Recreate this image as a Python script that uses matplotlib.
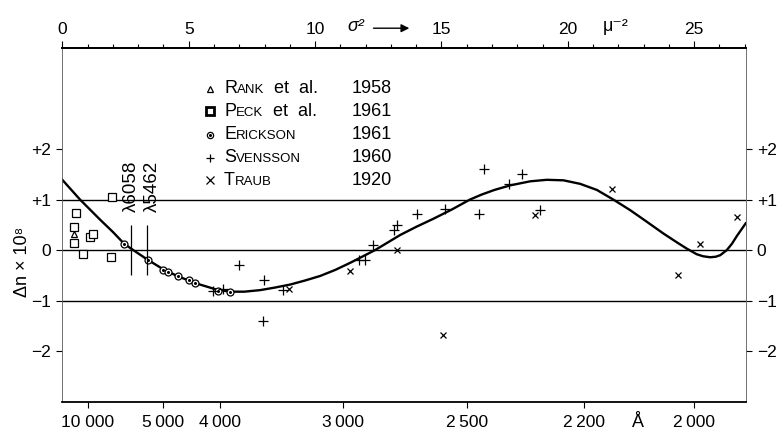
import numpy as np
import matplotlib.pyplot as plt
from matplotlib.offsetbox import TextArea, HPacker, AnnotationBbox

plt.rcParams['font.family'] = ['Liberation Sans', 'DejaVu Sans']

# -----------------------------------
# Data (x = sigma^2 in micron^-2, y = delta n * 1e8)
# -----------------------------------
curve_x = [0.0, 0.70, 1.5, 2.0, 2.44, 2.81, 3.38, 4.0, 4.59, 5.32, 6.11, 6.64, 7.2,
           7.82, 8.4, 9.01, 9.6, 10.2, 10.8, 11.39, 11.9, 12.37, 13.37, 14.0, 14.68,
           15.4, 16.13, 16.6, 17.1, 17.72, 18.51, 19.17, 19.83, 20.49, 21.15, 21.8,
           22.47, 23.13, 23.78, 24.3, 24.71, 25.1, 25.35, 25.63, 25.85, 26.03, 26.29,
           26.5, 26.69, 27.04]
curve_y = [1.39, 1.00, 0.60, 0.36, 0.13, 0.0, -0.19, -0.38, -0.52, -0.66, -0.78, -0.82,
           -0.82, -0.79, -0.74, -0.68, -0.60, -0.51, -0.39, -0.25, -0.12, 0.0, 0.30,
           0.46, 0.62, 0.80, 1.0, 1.10, 1.19, 1.28, 1.36, 1.39, 1.38, 1.31, 1.19, 1.0,
           0.79, 0.56, 0.33, 0.16, 0.03, -0.08, -0.12, -0.14, -0.13, -0.10, 0.0,
           0.13, 0.28, 0.53]

rank_x = [0.46]
rank_y = [0.31]

peck_x = [1.98, 0.54, 0.46, 0.46, 1.10, 1.20, 0.83, 1.91]
peck_y = [1.06, 0.73, 0.45, 0.14, 0.26, 0.31, -0.08, -0.13]

erickson_x = [2.44, 3.38, 4.0, 4.2, 4.57, 5.01, 5.25, 6.17, 6.64]
erickson_y = [0.13, -0.19, -0.39, -0.43, -0.51, -0.59, -0.64, -0.80, -0.83]

svensson_x = [5.95, 6.37, 6.99, 7.98, 7.93, 8.75, 11.75, 11.98, 12.28, 13.14, 13.23,
              14.02, 15.14, 16.5, 16.7, 17.69, 18.18, 18.9]
svensson_y = [-0.80, -0.77, -0.30, -0.59, -1.39, -0.79, -0.20, -0.20, 0.10, 0.39, 0.49,
              0.71, 0.82, 0.71, 1.61, 1.31, 1.51, 0.80]

traub_x = [8.95, 11.39, 13.23, 15.05, 18.71, 21.74, 24.38, 25.23, 26.69]
traub_y = [-0.77, -0.41, 0.0, -1.67, 0.70, 1.21, -0.49, 0.13, 0.66]

# bottom axis: wavelength in Angstrom
wavelengths = [10000, 5000, 4000, 3000, 2500, 2200, 2000]
wavelength_labels = ["10 000", "5\u2009000", "4\u2009000", "3\u2009000",
                     "2\u2009500", "2\u2009200", "2\u2009000"]

top_major = [0, 5, 10, 15, 20, 25]
y_ticks = [-2, -1, 0, 1, 2]
y_labels = ["\u22122", "\u22121", "0", "+1", "+2"]

lambda_lines = [6058, 5462]

legend_rows = [
    ("^", "R", "ANK", "  et  al.", "1958"),
    ("s", "P", "ECK", "  et  al.", "1961"),
    ("o", "E", "RICKSON", "", "1961"),
    ("+", "S", "VENSSON", "", "1960"),
    ("x", "T", "RAUB", "", "1920"),
]

# -----------------------------------
# Figure
# -----------------------------------
fig = plt.figure(figsize=(7.78, 4.32), dpi=100)
ax = fig.add_axes([0.0801, 0.0694, 0.8784, 0.8202])
ax.set_xlim(0, 27.04)
ax.set_ylim(-3, 4)

for y in [-1, 0, 1]:
    ax.axhline(y, color="k", lw=1.0)

ax.plot(curve_x, curve_y, color="k", lw=1.7, solid_joinstyle="round")

ax.plot(peck_x, peck_y, "s", ms=5.5, mfc="white", mec="k", mew=0.9)
ax.plot(rank_x, rank_y, "^", ms=5, mfc="white", mec="k", mew=0.9)
ax.plot(erickson_x, erickson_y, "o", ms=5, mfc="white", mec="k", mew=0.9)
ax.plot(erickson_x, erickson_y, "o", ms=1.2, color="k")
ax.plot(svensson_x, svensson_y, "+", ms=7, color="k", mew=0.9)
ax.plot(traub_x, traub_y, "x", ms=5, color="k", mew=0.9)

# reference wavelength lines
for lam in lambda_lines:
    s2 = (1e4 / lam) ** 2
    ax.vlines(s2, -0.5, 0.5, color="k", lw=0.9)
ax.text(2.72, 0.75, "\u03bb6058", rotation=90, ha="center", va="bottom", fontsize=13.5)
ax.text(3.56, 0.75, "\u03bb5462", rotation=90, ha="center", va="bottom", fontsize=13.5)

# legend in small caps
row_y = [3.19, 2.74, 2.28, 1.83, 1.38]
for (mk, first, rest, tail, year), ry in zip(legend_rows, row_y):
    if mk == "s":
        ax.plot([5.85], [ry], mk, ms=6, mfc="white", mec="k", mew=2.0)
    elif mk == "o":
        ax.plot([5.85], [ry], mk, ms=4.5, mfc="white", mec="k", mew=0.9)
        ax.plot([5.85], [ry], mk, ms=1.2, color="k")
    elif mk == "^":
        ax.plot([5.85], [ry], mk, ms=4.5, mfc="white", mec="k", mew=0.9)
    else:
        ax.plot([5.85], [ry], mk, ms=6, color="k", mew=0.9)
    parts = [TextArea(first, textprops=dict(fontsize=13)),
             TextArea(rest, textprops=dict(fontsize=9.5))]
    if tail:
        parts.append(TextArea(tail, textprops=dict(fontsize=13)))
    box = HPacker(children=parts, align="baseline", pad=0, sep=0)
    ab = AnnotationBbox(box, (6.4, ry), xycoords="data", box_alignment=(0, 0.5),
                        frameon=False, pad=0)
    ax.add_artist(ab)
    ax.text(11.46, ry, year, ha="left", va="center", fontsize=13)

# axes styling
for side in ["left", "right"]:
    ax.spines[side].set_linewidth(0.6)
    ax.spines[side].set_color("0.35")
ax.spines["bottom"].set_linewidth(1.3)
ax.spines["top"].set_linewidth(1.3)

ax.set_yticks(y_ticks)
ax.set_yticklabels(y_labels)
ax.tick_params(axis="y", which="both", left=True, right=True, labelleft=True,
               labelright=True, direction="out", length=4, width=0.8,
               labelsize=12.5, pad=4)

s2_ticks = [(1e4 / w) ** 2 for w in wavelengths]
ax.set_xticks(s2_ticks)
ax.set_xticklabels(wavelength_labels)
ax.tick_params(axis="x", direction="out", length=4, width=0.8, labelsize=12.5, pad=5)
ax.text(22.78, -0.035, "\u00c5", transform=ax.get_xaxis_transform(),
        ha="center", va="top", fontsize=13)

top = ax.secondary_xaxis("top")
top.set_xticks(top_major)
top.set_xticks(np.arange(0, 28, 1), minor=True)
top.tick_params(which="major", direction="out", length=5, width=0.8,
                labelsize=12.5, pad=3)
top.tick_params(which="minor", direction="out", length=3, width=0.8)
top.spines["top"].set_linewidth(1.3)

trans = ax.get_xaxis_transform()
ax.text(11.27, 1.06, "\u03c3\u00b2", transform=trans, ha="left", va="center",
        fontsize=13, style="italic")
ax.annotate("", xy=(13.84, 1.055), xytext=(12.2, 1.055), xycoords=trans,
            textcoords=trans, annotation_clip=False,
            arrowprops=dict(arrowstyle="-|>", lw=1.0, color="k", mutation_scale=12))
ax.text(21.4, 1.06, "\u03bc\u207b\u00b2", transform=trans, ha="left", va="center",
        fontsize=13)

ax.text(-0.058, 0.395, "\u0394n \u00d7 10\u2078", transform=ax.transAxes,
        rotation=90, ha="center", va="center", fontsize=13)

fig.savefig("out.png", dpi=100)
